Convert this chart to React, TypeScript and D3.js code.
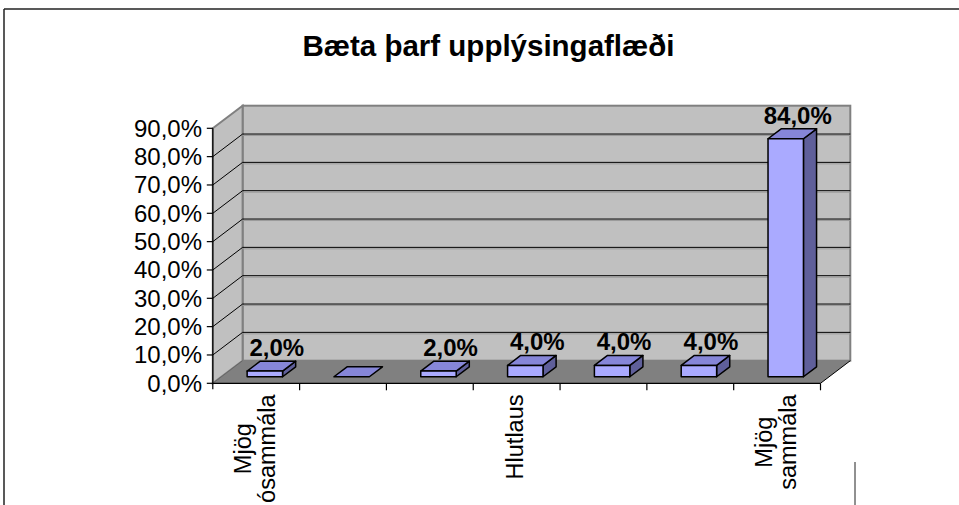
import React from "react";
import * as d3 from "d3";

const title = "Bæta þarf upplýsingaflæði";
const categories = ["Mjög ósammála", "c2", "c3", "Hlutlaus", "c5", "c6", "Mjög sammála"];
const categoryLabels = [["Mjög", "ósammála"], [], [], ["Hlutlaus"], [], [], ["Mjög", "sammála"]];
const values = [2, 0, 2, 4, 4, 4, 84];
const yTicks = [0, 10, 20, 30, 40, 50, 60, 70, 80, 90];

const W = 959;
const H = 505;
const FONT = "Arial, 'Liberation Sans', sans-serif";

const fmt = (v: number) => v.toFixed(1).replace(".", ",") + "%";

export default function App() {
  const x = d3.scaleBand<string>().domain(categories).range([212.8, 820.5]).paddingInner(0).paddingOuter(0);
  const y = d3.scaleLinear().domain([0, 90]).range([383.3, 128.3]);
  const DX = 29.8;
  const DY = -22.6;
  const f0 = 0.29;
  const f1 = 0.73;
  const bw = x.bandwidth() * 0.408;

  const y0 = y(0);
  const yTop = y(90);
  const xL = x.range()[0];
  const xR = x.range()[1];

  const poly = (pts: [number, number][]) => pts.map((p) => p.join(",")).join(" ");

  return (
    <svg width={W} height={H} style={{ position: "absolute", left: 0, top: 0, background: "#fff" }}>
      <rect x={0} y={0} width={W} height={H} fill="#fff" />
      {/* outer frame */}
      <line x1={4} y1={9} x2={W} y2={9} stroke="#222" strokeWidth={1.5} />
      <line x1={4} y1={9} x2={4} y2={H} stroke="#222" strokeWidth={1.5} />
      <line x1={855} y1={462} x2={855} y2={H} stroke="#222" strokeWidth={1} />

      {/* title */}
      <text x={488.5} y={56} textAnchor="middle" fontFamily={FONT} fontWeight="bold" fontSize={29.5} fill="#000">
        {title}
      </text>

      {/* back wall */}
      <rect x={xL + DX} y={yTop + DY} width={xR - xL} height={y0 - yTop} fill="#c0c0c0" stroke="#808080" strokeWidth={2} />
      {/* side wall */}
      <polygon
        points={poly([[xL, yTop], [xL + DX, yTop + DY], [xL + DX, y0 + DY], [xL, y0]])}
        fill="#c0c0c0"
        stroke="#808080"
        strokeWidth={2}
      />
      {/* gridlines */}
      {yTicks.slice(1, -1).map((t) => (
        <g key={t}>
          <line x1={xL + DX} x2={xR + DX} y1={y(t) + DY} y2={y(t) + DY} stroke="#000" strokeWidth={1} />
          <line x1={xL + DX} x2={xR + DX} y1={y(t) + DY + 1.5} y2={y(t) + DY + 1.5} stroke="#9a9a9a" strokeWidth={1} />
          <line x1={xL} x2={xL + DX} y1={y(t)} y2={y(t) + DY} stroke="#000" strokeWidth={1} />
        </g>
      ))}
      {/* floor */}
      <polygon
        points={poly([[xL, y0], [xR, y0], [xR + DX, y0 + DY], [xL + DX, y0 + DY]])}
        fill="#808080"
      />
      <line x1={xR} y1={y0} x2={xR + DX} y2={y0 + DY} stroke="#000" strokeWidth={1} />
      <line x1={xL} y1={y0} x2={xL + DX} y2={y0 + DY} stroke="#666" strokeWidth={1} />

      {/* axes */}
      <line x1={xL} y1={yTop} x2={xL} y2={y0 + 6} stroke="#000" strokeWidth={1.2} />
      <line x1={xL} y1={y0} x2={xR} y2={y0} stroke="#000" strokeWidth={1.2} />
      {yTicks.map((t) => (
        <g key={t}>
          <line x1={xL - 6} x2={xL} y1={y(t)} y2={y(t)} stroke="#000" strokeWidth={1.2} />
          <text x={202} y={y(t) + 8.3} textAnchor="end" fontFamily={FONT} fontSize={24} fill="#000">
            {fmt(t)}
          </text>
        </g>
      ))}
      {categories.map((c) => (
        <line key={c} x1={(x(c) as number) + x.bandwidth()} x2={(x(c) as number) + x.bandwidth()} y1={y0} y2={y0 + 7} stroke="#000" strokeWidth={1.2} />
      ))}

      {/* bars */}
      {categories.map((c, i) => {
        const v = values[i];
        const cx = (x(c) as number) + x.bandwidth() / 2 + DX * f0;
        const bx0 = cx - bw / 2;
        const bx1 = cx + bw / 2;
        const by0 = y0 + DY * f0;
        const byT = y(v) + DY * f0;
        const ddx = DX * (f1 - f0);
        const ddy = DY * (f1 - f0);
        return (
          <g key={c} stroke="#000" strokeWidth={1.5} strokeLinejoin="round">
            {v > 0 && (
              <polygon points={poly([[bx1, by0], [bx1, byT], [bx1 + ddx, byT + ddy], [bx1 + ddx, by0 + ddy]])} fill="#5f5f9a" />
            )}
            <polygon points={poly([[bx0, byT], [bx1, byT], [bx1 + ddx, byT + ddy], [bx0 + ddx, byT + ddy]])} fill="#8686d8" />
            {v > 0 && <rect x={bx0} y={byT} width={bw} height={by0 - byT} fill="#aaaaff" />}
          </g>
        );
      })}

      {/* data labels */}
      {categories.map((c, i) => {
        const v = values[i];
        if (v <= 0) return null;
        const cx = (x(c) as number) + x.bandwidth() / 2 + DX * f0 + 12;
        const yb = y(v) + DY * f1 - 5;
        return (
          <text key={c} x={cx} y={yb} textAnchor="middle" fontFamily={FONT} fontWeight="bold" fontSize={24} fill="#000">
            {fmt(v)}
          </text>
        );
      })}

      {/* category labels */}
      {categories.map((c, i) => {
        const lines = categoryLabels[i];
        if (!lines.length) return null;
        const cx = (x(c) as number) + x.bandwidth() / 2;
        const fs = 23.5;
        const ctx = document.createElement("canvas").getContext("2d");
        let widths = lines.map((l) => l.length * fs * 0.55);
        if (ctx) {
          ctx.font = `${fs}px Arial, 'Liberation Sans', sans-serif`;
          widths = lines.map((l) => ctx.measureText(l).width);
        }
        const maxW = Math.max(...widths);
        const top = 394.5;
        return (
          <g key={c}>
            {lines.map((l, j) => {
              const base = cx + 6.8 + (j - (lines.length - 1) / 2) * 23.3;
              const mid = top + maxW / 2;
              return (
                <text
                  key={j}
                  transform={`translate(${base},${mid}) rotate(-90)`}
                  textAnchor="middle"
                  fontFamily={FONT}
                  fontSize={fs}
                  fill="#000"
                >
                  {l}
                </text>
              );
            })}
          </g>
        );
      })}
    </svg>
  );
}
